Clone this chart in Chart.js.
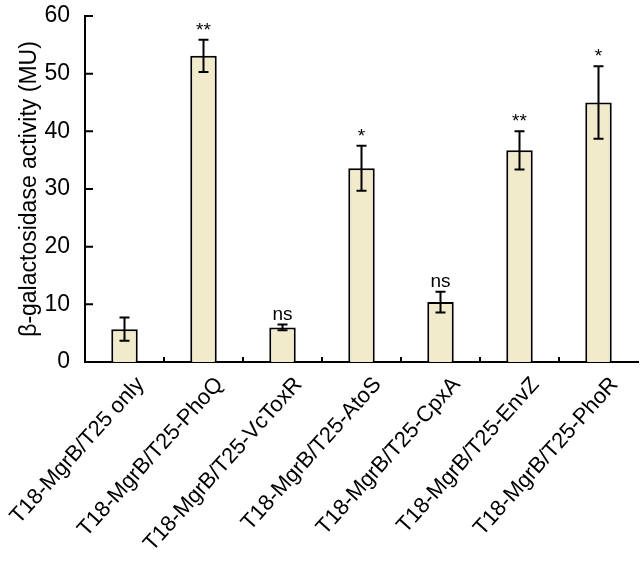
<!DOCTYPE html>
<html>
<head>
<meta charset="utf-8">
<script src="https://cdn.jsdelivr.net/npm/chart.js@4"></script>
<style>
  html, body { margin: 0; padding: 0; background: #fff; }
  #wrap { width: 640px; height: 567px; }
</style>
</head>
<body>
<div id="wrap"><canvas id="chart" width="640" height="567"></canvas></div>
<script>
// data
const categories = [
    'T18-MgrB/T25 only',
    'T18-MgrB/T25-PhoQ',
    'T18-MgrB/T25-VcToxR',
    'T18-MgrB/T25-AtoS',
    'T18-MgrB/T25-CpxA',
    'T18-MgrB/T25-EnvZ',
    'T18-MgrB/T25-PhoR'
];
const activity = [5.7, 53.1, 6.0, 33.6, 10.4, 36.7, 45.0];
const errors = [2.0, 2.8, 0.5, 3.9, 1.8, 3.3, 6.3];
const marks = ['', '**', 'ns', '*', 'ns', '**', '*'];
const yTicks = [0, 10, 20, 30, 40, 50, 60];

const FONT = '"Liberation Sans", Arial, sans-serif';

// error bars + significance marks
const errorBars = {
    id: 'errorBars',
    afterDatasetsDraw(chart) {
        const ctx = chart.ctx;
        const y = chart.scales.y;
        const meta = chart.getDatasetMeta(0);
        ctx.save();
        ctx.strokeStyle = '#000';
        ctx.lineWidth = 2;
        ctx.fillStyle = '#000';
        ctx.textAlign = 'center';
        ctx.textBaseline = 'alphabetic';
        meta.data.forEach((bar, i) => {
            const top = y.getPixelForValue(activity[i] + errors[i]);
            const bot = y.getPixelForValue(activity[i] - errors[i]);
            const cap = 5;
            ctx.beginPath();
            ctx.moveTo(bar.x, top); ctx.lineTo(bar.x, bot);
            ctx.moveTo(bar.x - cap, top); ctx.lineTo(bar.x + cap, top);
            ctx.moveTo(bar.x - cap, bot); ctx.lineTo(bar.x + cap, bot);
            ctx.stroke();
            if (marks[i]) {
                ctx.font = '19px ' + FONT;
                const off = marks[i] === 'ns' ? -5 : -4;
                ctx.fillText(marks[i], bar.x, top + off);
            }
        });
        ctx.restore();
    }
};

// inward tick marks on both axes
const innerTicks = {
    id: 'innerTicks',
    afterDraw(chart) {
        const ctx = chart.ctx;
        const area = chart.chartArea;
        const x = chart.scales.x;
        const y = chart.scales.y;
        ctx.save();
        ctx.strokeStyle = '#000';
        ctx.lineWidth = 2;
        ctx.beginPath();
        yTicks.forEach(v => {
            const py = y.getPixelForValue(v);
            ctx.moveTo(area.left, py);
            ctx.lineTo(area.left + 8, py);
        });
        for (let i = 1; i < categories.length; i++) {
            const px = (x.getPixelForValue(i - 1) + x.getPixelForValue(i)) / 2;
            ctx.moveTo(px, area.bottom);
            ctx.lineTo(px, area.bottom - 5);
        }
        ctx.stroke();
        ctx.restore();
    }
};

new Chart(document.getElementById('chart'), {
    type: 'bar',
    data: {
        labels: categories,
        datasets: [{
            data: activity,
            backgroundColor: '#f1eacb',
            borderColor: '#000',
            borderWidth: 2,
            barPercentage: 0.335,
            categoryPercentage: 1.0
        }]
    },
    options: {
        responsive: false,
        animation: false,
        layout: { padding: { top: 0, right: 2, left: 0, bottom: 0 } },
        plugins: {
            legend: { display: false },
            tooltip: { enabled: false }
        },
        scales: {
            x: {
                grid: { display: false },
                border: { display: true, color: '#000', width: 2 },
                ticks: {
                    color: '#000',
                    font: { family: FONT, size: 22 },
                    minRotation: 48,
                    maxRotation: 48,
                    autoSkip: false,
                    labelOffset: 16,
                    padding: 2
                },
                afterFit(scale) {
                    scale.height = 205;
                    scale.paddingLeft = 0;
                    scale.paddingRight = 0;
                }
            },
            y: {
                min: 0,
                max: 60,
                grid: { display: false },
                border: { display: true, color: '#000', width: 2 },
                ticks: {
                    color: '#000',
                    font: { family: FONT, size: 23 },
                    stepSize: 10,
                    padding: 7
                },
                title: {
                    display: true,
                    text: 'β-galactosidase activity (MU)',
                    color: '#000',
                    font: { family: FONT, size: 23 },
                    padding: { top: 16, bottom: 0 }
                },
                afterFit(scale) {
                    scale.width = 85;
                    scale.paddingTop = 16;
                    scale.paddingBottom = 0;
                }
            }
        }
    },
    plugins: [errorBars, innerTicks]
});
</script>
</body>
</html>
